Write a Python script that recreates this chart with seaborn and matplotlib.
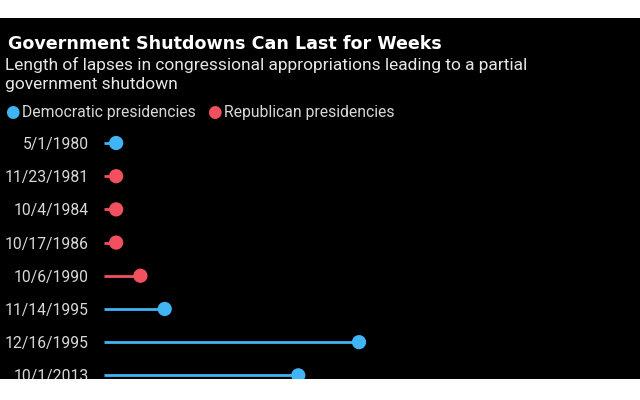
import matplotlib
matplotlib.use("Agg")
import matplotlib.pyplot as plt
import seaborn as sns
import pandas as pd
from matplotlib.patches import Rectangle

# shutdown start dates, length in days, party of the president
dates = ["5/1/1980", "11/23/1981", "10/4/1984", "10/17/1986",
         "10/6/1990", "11/14/1995", "12/16/1995", "10/1/2013"]
days = [1, 1, 1, 1, 3, 5, 21, 16]
party = ["Democratic", "Republican", "Republican", "Republican",
         "Republican", "Democratic", "Democratic", "Democratic"]

colors = {"Democratic": "#40b4f5", "Republican": "#f2505e"}
df = pd.DataFrame({"date": dates, "days": days, "party": party})

sns.set_style("dark", {"axes.facecolor": "black", "figure.facecolor": "black"})
plt.rcParams['font.family'] = ['Roboto', 'DejaVu Sans']

fig = plt.figure(figsize=(6.4, 4), dpi=100)
fig.patch.set_facecolor("black")
renderer = fig.canvas.get_renderer()


def fit(t, width_px):
    # scale the font so the text spans about width_px pixels
    w = t.get_window_extent(renderer).width
    t.set_fontsize(t.get_fontsize() * width_px / w)
    return t


ax = fig.add_axes([104 / 640, 21 / 400, 510 / 640, 252.6 / 400])
ax.set_facecolor("black")

# stems
for i, row in df.iterrows():
    ax.plot([0, row["days"]], [i, i], color=colors[row["party"]], lw=2,
            solid_capstyle="butt", zorder=1)
sns.scatterplot(data=df, x="days", y="date", hue="party", palette=colors,
                s=105, edgecolor="none", legend=False, ax=ax, zorder=2)

ax.set_xlim(0, 42)
ax.set_ylim(7.11, -0.5)
ax.set_xlabel("")
ax.set_ylabel("")
ax.set_xticks([])
ax.tick_params(axis="y", length=0, pad=11, labelsize=12, labelcolor="#d8d8d8")
for s in ax.spines.values():
    s.set_visible(False)
ax.grid(False)
probe = fig.text(0, 0, "11/23/1981", fontsize=12)
fit(probe, 83)
ax.tick_params(axis="y", labelsize=probe.get_fontsize())
probe.remove()

t = fig.text(8 / 640, 1 - 44 / 400, "Government Shutdowns Can Last for Weeks",
             color="white", fontsize=13, fontweight="bold", va="center",
             family="DejaVu Sans")
fit(t, 430)
t = fig.text(5 / 640, 1 - 65 / 400,
             "Length of lapses in congressional appropriations leading to a partial",
             color="#e6e6e6", fontsize=13, va="center")
fit(t, 522)
fig.text(5 / 640, 1 - 84 / 400, "government shutdown",
         color="#e6e6e6", fontsize=t.get_fontsize(), va="center")

# legend
fig.text(12 / 640, 1 - 112 / 400, "\u25cf", color=colors["Democratic"],
         fontsize=12, va="center", ha="center", family="DejaVu Sans")
t = fig.text(22 / 640, 1 - 112 / 400, "Democratic presidencies",
             color="#d8d8d8", fontsize=12, va="center")
fit(t, 174)
fig.text(214 / 640, 1 - 112 / 400, "\u25cf", color=colors["Republican"],
         fontsize=12, va="center", ha="center", family="DejaVu Sans")
fig.text(224 / 640, 1 - 112 / 400, "Republican presidencies",
         color="#d8d8d8", fontsize=t.get_fontsize(), va="center")

# white bands above and below the dark panel
fig.add_artist(Rectangle((0, 1 - 18 / 400), 1, 18 / 400, transform=fig.transFigure,
                         facecolor="white", edgecolor="none", zorder=10))
fig.add_artist(Rectangle((0, 0), 1, 21 / 400, transform=fig.transFigure,
                         facecolor="white", edgecolor="none", zorder=10))

fig.savefig("out.png", dpi=100, facecolor="black")
